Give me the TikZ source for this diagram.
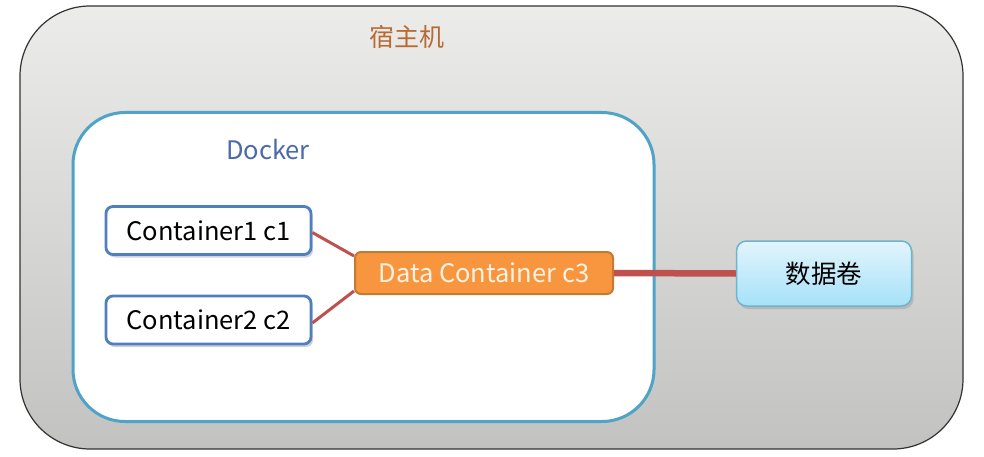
\documentclass[tikz,border=0pt]{standalone}
\usepackage{fontspec}
\setmainfont{Noto Sans CJK SC}
\usetikzlibrary{shadows,calc}
\definecolor{hostfillA}{HTML}{ECECEB}
\definecolor{hostfillB}{HTML}{C2C2C0}
\definecolor{hosttext}{HTML}{B86A32}
\definecolor{dockerline}{HTML}{4FA3C7}
\definecolor{dockertext}{HTML}{4A6BA8}
\definecolor{boxline}{HTML}{4F7FBF}
\definecolor{linkred}{HTML}{C0504D}
\definecolor{orangefill}{HTML}{F7963F}
\definecolor{orangeline}{HTML}{C47A33}
\definecolor{c3text}{HTML}{FFF2E2}
\definecolor{volA}{HTML}{E2F5FC}
\definecolor{volB}{HTML}{A6E1F8}
\definecolor{volline}{HTML}{6FB3CF}
\tikzset{
  cbox/.style={draw=boxline, line width=2.8pt, fill=white, rounded corners=7pt,
    minimum width=205pt, minimum height=48pt, inner sep=0pt,
    font=\fontsize{25.5}{28}\selectfont,
    drop shadow={shadow xshift=2pt, shadow yshift=-3pt, opacity=0.35}},
  dbox/.style={draw=orangeline, line width=2pt, fill=orangefill, rounded corners=6pt,
    minimum width=258pt, minimum height=42pt, inner sep=0pt, text=c3text,
    font=\fontsize{25.5}{28}\selectfont},
  vbox/.style={draw=volline, line width=1.5pt, top color=volA, bottom color=volB,
    rounded corners=10pt, minimum width=175pt, minimum height=65pt, inner sep=0pt,
    font=\fontsize{25.5}{28}\selectfont,
    drop shadow={shadow xshift=2pt, shadow yshift=-3pt, opacity=0.3}},
  link/.style={draw=linkred, line width=3pt},
  biglink/.style={draw=linkred, line width=6.5pt},
}
\begin{document}
\begin{tikzpicture}[x=1pt,y=-1pt]
\useasboundingbox (0,0) rectangle (984,457);
\fill[white] (0,0) rectangle (984,457);
% host
\node[draw=black!80, line width=1.2pt, rounded corners=70pt, top color=hostfillA,
  bottom color=hostfillB, minimum width=943pt, minimum height=443pt, inner sep=0pt]
  (host) at (491.5,227.5) {};
\node[text=hosttext, font=\fontsize{25}{28}\selectfont] (hostlabel) at (407,37) {宿主机};
% docker
\node[draw=dockerline, line width=3pt, fill=white, rounded corners=52pt,
  minimum width=581pt, minimum height=309pt, inner sep=0pt]
  (docker) at (363.5,267) {};
\node[text=dockertext, font=\fontsize{25.5}{28}\selectfont] (dockerlabel) at (268,150) {Docker};
% boxes
\node[cbox] (c1) at (208.5,230.5) {Container1 c1};
\node[cbox] (c2) at (208.5,320) {Container2 c2};
\node[dbox] (c3) at (484,273) {Data Container c3};
\node[vbox] (vol) at (824,273.5) {数据卷};
% links
\draw[link] ($(c1.east)+(0,2)$) -- ($(c3.north west)+(0,5)$);
\draw[link] ($(c2.east)+(0,3)$) -- ($(c3.south west)+(0,-4)$);
\draw[biglink] (c3.east) -- (vol.west);
\end{tikzpicture}
\end{document}
